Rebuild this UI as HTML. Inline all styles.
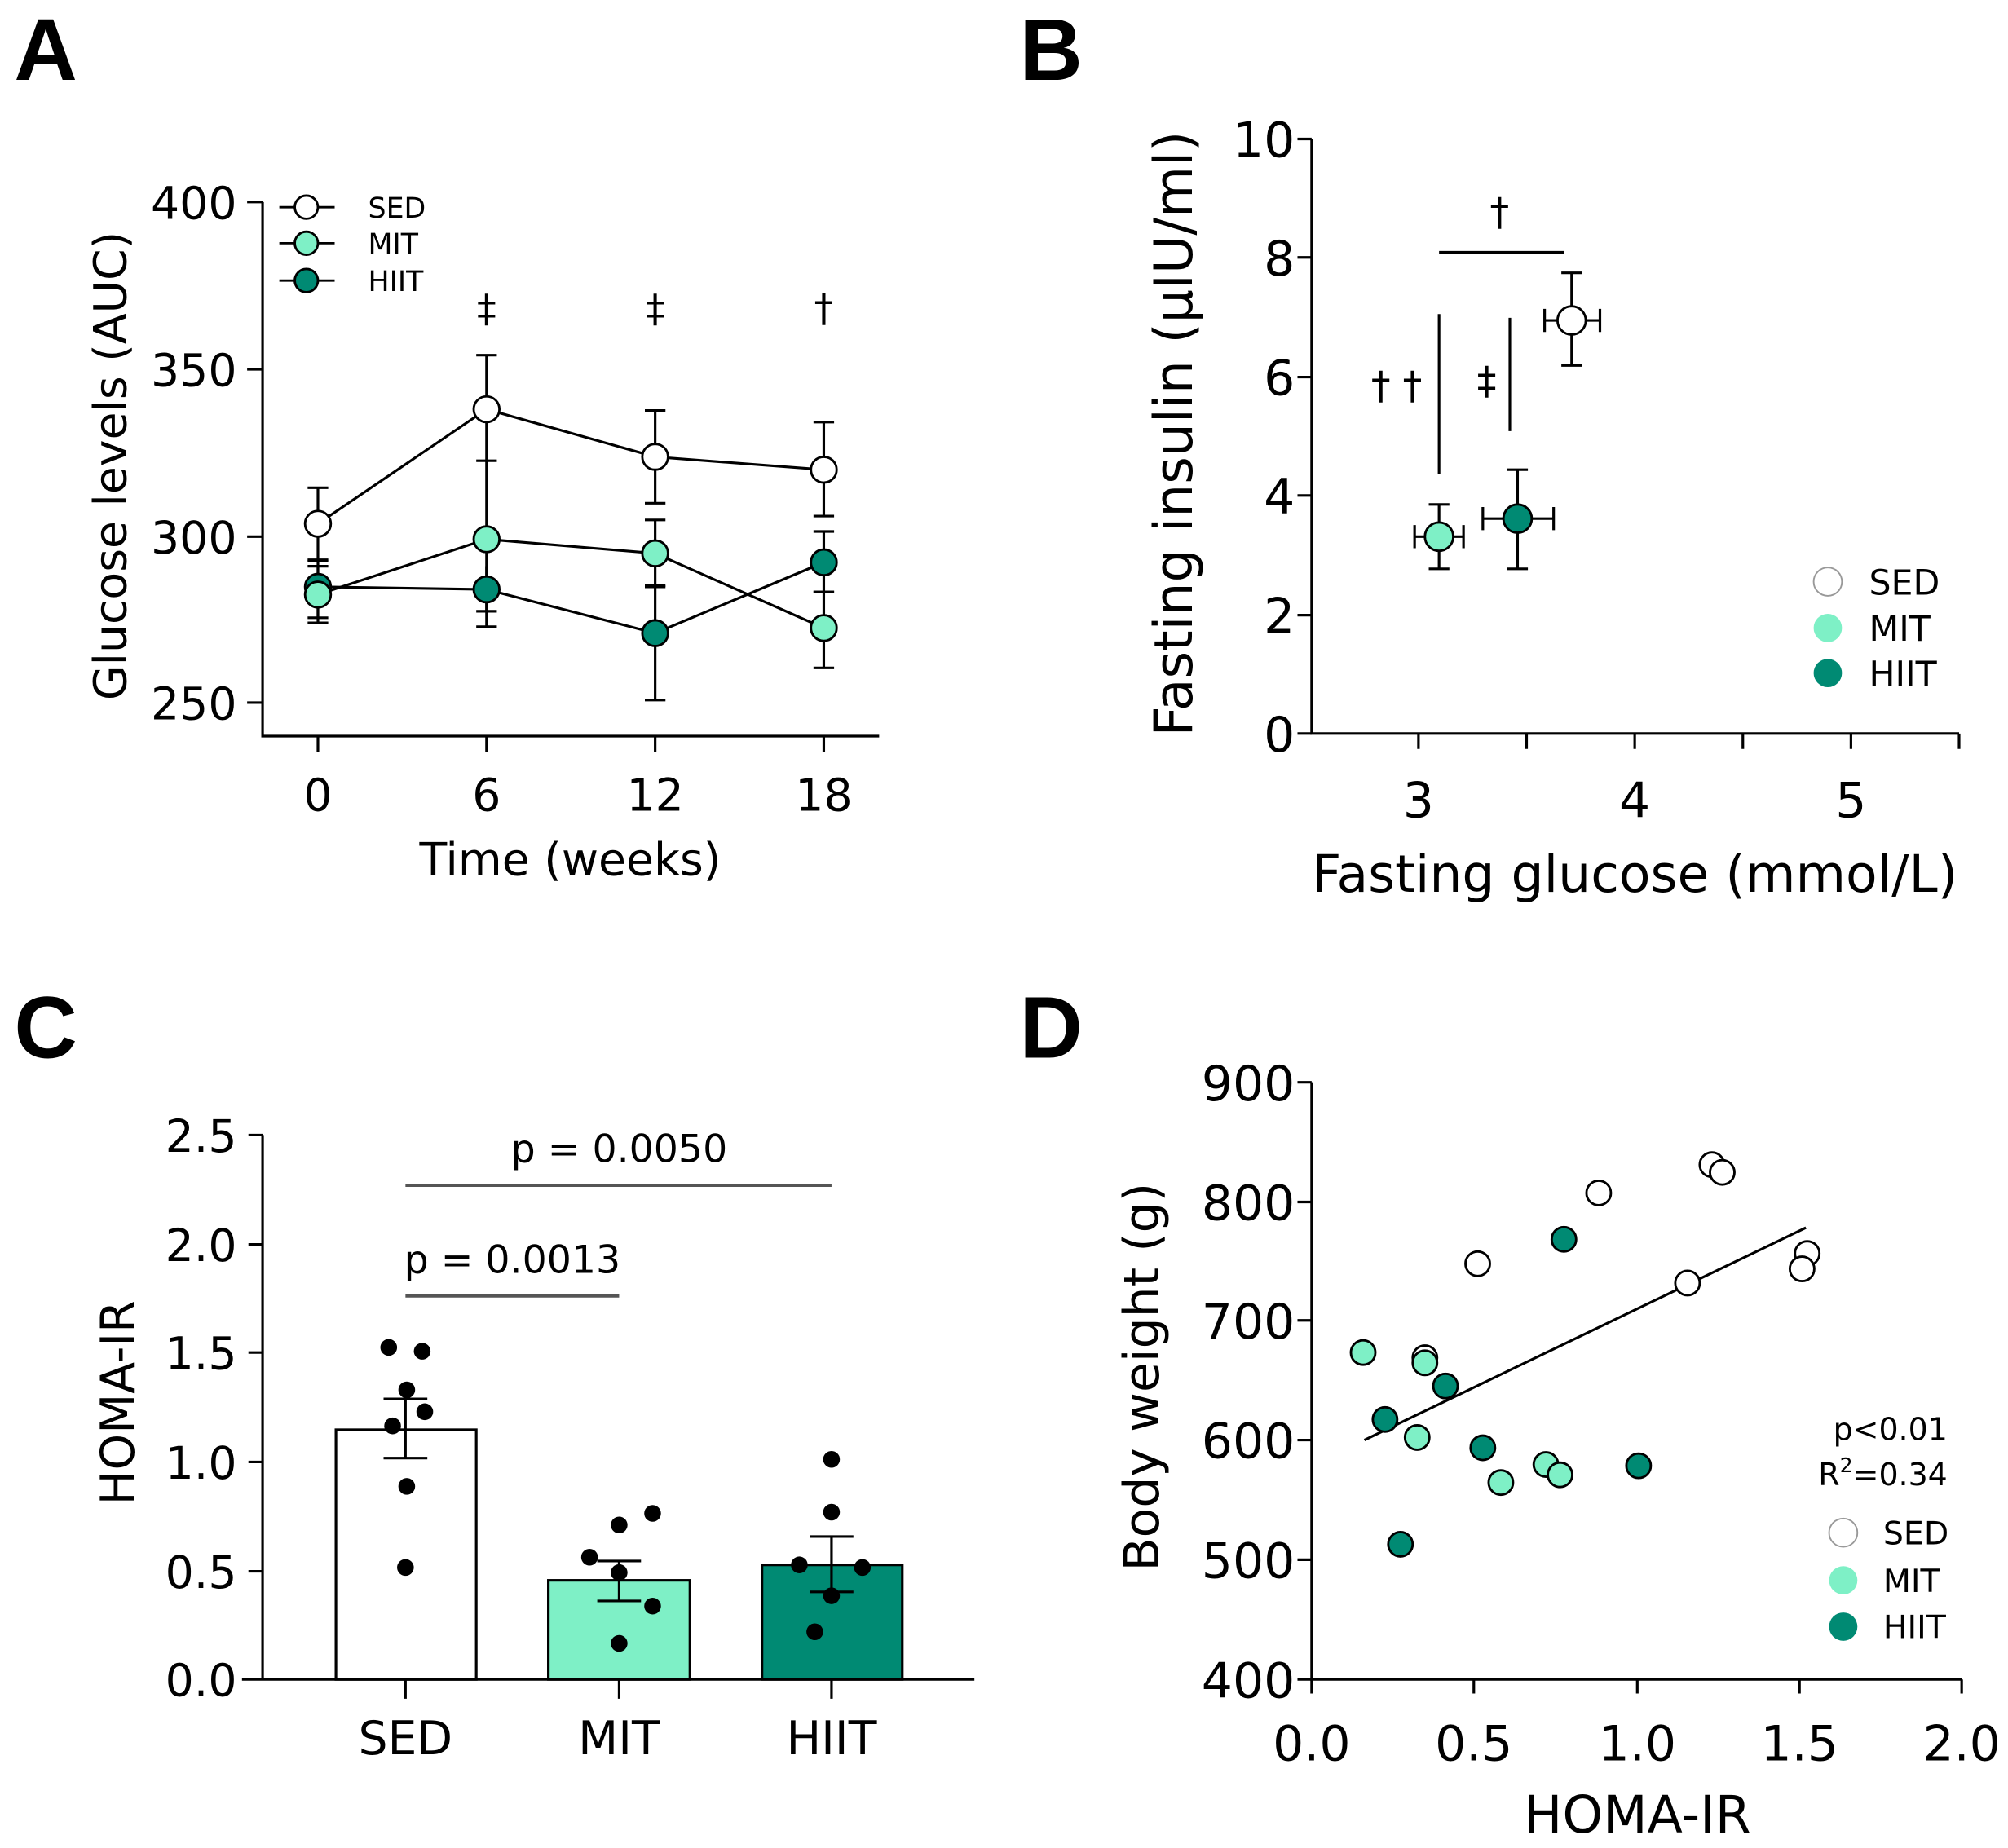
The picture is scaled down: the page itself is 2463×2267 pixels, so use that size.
<!DOCTYPE html>
<html><head><meta charset="utf-8"><style>html,body{margin:0;padding:0;background:#fff}svg{display:block}</style></head>
<body>
<svg width="2463" height="2267" viewBox="0 0 1560 1436" preserveAspectRatio="none" xmlns="http://www.w3.org/2000/svg" font-family="'DejaVu Sans','Liberation Sans',sans-serif" fill="#000">
<g font-family="'Liberation Sans',sans-serif" font-weight="bold" font-size="68">
<text x="11" y="62">A</text><text x="792" y="62">B</text><text x="11" y="822">C</text><text x="792" y="822">D</text>
</g>
<!-- Panel A -->
<g stroke="#000" stroke-width="2" fill="none">
<path d="M204 157V572H683"/>
<path d="M192 157H204M192 287H204M192 417H204M192 546H204"/>
<path d="M247 572V584M378 572V584M509 572V584M640 572V584"/>
</g>
<g font-size="35" text-anchor="end"><text x="184" y="170">400</text><text x="184" y="300">350</text><text x="184" y="430">300</text><text x="184" y="559">250</text></g>
<g font-size="35" text-anchor="middle"><text x="247" y="630">0</text><text x="378" y="630">6</text><text x="509" y="630">12</text><text x="640" y="630">18</text>
<text x="443" y="680" font-size="35">Time (weeks)</text></g>
<text font-size="35" text-anchor="middle" transform="translate(98 362) rotate(-90)">Glucose levels (AUC)</text>
<g stroke="#000" stroke-width="2" fill="none">
<path d="M247 379V435M239 379H255M239 435H255 M378 276V358M370 276H386M370 358H386 M509 319V391M501 319H517M501 391H517 M640 328V401M632 328H648M632 401H648"/>
<path d="M247 440V480M239 440H255M239 480H255 M378 358V475M370 475H386 M509 404V456M501 404H517M501 456H517 M640 460V519M632 460H648M632 519H648"/>
<path d="M247 436V484M239 436H255M239 484H255 M378 440V487M370 487H386 M509 455V544M501 455H517M501 544H517 M640 413V460M632 413H648M632 460H648"/>
<polyline points="247,407 378,318 509,355 640,365"/>
<polyline points="247,462 378,419 509,430 640,488"/>
<polyline points="247,456 378,458 509,492 640,437"/>
</g>
<g stroke="#000" stroke-width="1.8">
<circle cx="247" cy="456" r="10" fill="#008a73"/><circle cx="378" cy="458" r="10" fill="#008a73"/><circle cx="509" cy="492" r="10" fill="#008a73"/><circle cx="640" cy="437" r="10" fill="#008a73"/>
<circle cx="247" cy="462" r="10" fill="#7ef0c6"/><circle cx="378" cy="419" r="10" fill="#7ef0c6"/><circle cx="509" cy="430" r="10" fill="#7ef0c6"/><circle cx="640" cy="488" r="10" fill="#7ef0c6"/>
<circle cx="247" cy="407" r="10" fill="#fff"/><circle cx="378" cy="318" r="10" fill="#fff"/><circle cx="509" cy="355" r="10" fill="#fff"/><circle cx="640" cy="365" r="10" fill="#fff"/>
<path d="M217 161H260M217 189H260M217 218H260" fill="none"/>
<circle cx="238" cy="161" r="9" fill="#fff"/><circle cx="238" cy="189" r="9" fill="#7ef0c6"/><circle cx="238" cy="218" r="9" fill="#008a73"/>
</g>
<g font-size="22"><text x="286" y="169">SED</text><text x="286" y="197">MIT</text><text x="286" y="226">HIIT</text></g>
<g font-size="30" text-anchor="middle"><text x="378" y="250">‡</text><text x="509" y="250">‡</text><text x="640" y="250">†</text></g>
<!-- Panel B -->
<g stroke="#000" stroke-width="2" fill="none">
<path d="M1019 108V570H1522"/>
<path d="M1008 108H1019M1008 200H1019M1008 293H1019M1008 385H1019M1008 478H1019M1008 570H1019"/>
<path d="M1102 570V582M1186 570V582M1270 570V582M1354 570V582M1438 570V582M1522 570V582"/>
<path d="M1200 249H1243M1200 240V258M1243 240V258M1221 212V284M1213 212H1229M1213 284H1229"/>
<path d="M1099 417H1137M1099 408V426M1137 408V426M1118 392V442M1110 392H1126M1110 442H1126"/>
<path d="M1152 403H1207M1152 394V412M1207 394V412M1179 365V442M1171 365H1187M1171 442H1187"/>
<path d="M1118 196H1215M1118 244V368M1173 247V335"/>
</g>
<g stroke="#000" stroke-width="1.8"><circle cx="1221" cy="249" r="11" fill="#fff"/><circle cx="1118" cy="417" r="11" fill="#7ef0c6"/><circle cx="1179" cy="403" r="11" fill="#008a73"/></g>
<g font-size="38" text-anchor="end"><text x="1006" y="122">10</text><text x="1006" y="214">8</text><text x="1006" y="307">6</text><text x="1006" y="399">4</text><text x="1006" y="492">2</text><text x="1006" y="584">0</text></g>
<g font-size="38" text-anchor="middle"><text x="1102" y="635">3</text><text x="1270" y="635">4</text><text x="1438" y="635">5</text>
<text x="1270" y="693" font-size="40">Fasting glucose (mmol/L)</text></g>
<text font-size="41" text-anchor="middle" transform="translate(926 337) rotate(-90)">Fasting insulin (µIU/ml)</text>
<g font-size="30" text-anchor="middle"><text x="1165" y="175">†</text><text x="1085" y="310">† †</text><text x="1155" y="306">‡</text></g>
<circle cx="1420" cy="452" r="11" fill="#fff" stroke="#999" stroke-width="1.2"/><circle cx="1420" cy="488" r="11" fill="#7ef0c6"/><circle cx="1420" cy="523" r="11" fill="#008a73"/>
<g font-size="27"><text x="1452" y="462">SED</text><text x="1452" y="498">MIT</text><text x="1452" y="533">HIIT</text></g>
<!-- Panel C -->
<g stroke="#000" stroke-width="2">
<rect x="261" y="1111" width="109" height="194" fill="#fff"/>
<rect x="426" y="1228" width="110" height="77" fill="#7ef0c6"/>
<rect x="592" y="1216" width="109" height="89" fill="#008a73"/>
<path fill="none" d="M204 882V1305M188 1305H757M193 882H204M193 967H204M193 1051H204M193 1136H204M193 1221H204M315 1305V1320M481 1305V1320M646 1305V1320"/>
<path fill="none" d="M315 1087V1133M298 1087H332M298 1133H332M481 1213V1244M464 1213H498M464 1244H498M646 1194V1237M629 1194H663M629 1237H663"/>
</g>
<g stroke="#555" stroke-width="2.5"><path d="M315 921H646M315 1007H481"/></g>
<g font-size="30" text-anchor="middle"><text x="481" y="903">p = 0.0050</text><text x="398" y="989">p = 0.0013</text></g>
<g>
<circle cx="302" cy="1047" r="6.5"/><circle cx="328" cy="1050" r="6.5"/><circle cx="316" cy="1080" r="6.5"/><circle cx="330" cy="1097" r="6.5"/><circle cx="305" cy="1108" r="6.5"/><circle cx="316" cy="1155" r="6.5"/><circle cx="315" cy="1218" r="6.5"/>
<circle cx="481" cy="1185" r="6.5"/><circle cx="507" cy="1176" r="6.5"/><circle cx="458" cy="1210" r="6.5"/><circle cx="481" cy="1222" r="6.5"/><circle cx="507" cy="1248" r="6.5"/><circle cx="481" cy="1277" r="6.5"/>
<circle cx="646" cy="1134" r="6.5"/><circle cx="646" cy="1175" r="6.5"/><circle cx="621" cy="1216" r="6.5"/><circle cx="670" cy="1218" r="6.5"/><circle cx="646" cy="1240" r="6.5"/><circle cx="633" cy="1268" r="6.5"/>
</g>
<g font-size="35" text-anchor="end"><text x="184" y="895">2.5</text><text x="184" y="980">2.0</text><text x="184" y="1064">1.5</text><text x="184" y="1149">1.0</text><text x="184" y="1234">0.5</text><text x="184" y="1318">0.0</text></g>
<g font-size="36" text-anchor="middle"><text x="315" y="1363">SED</text><text x="481" y="1363">MIT</text><text x="646" y="1363">HIIT</text></g>
<text font-size="36" text-anchor="middle" transform="translate(104 1090) rotate(-90)">HOMA-IR</text>
<!-- Panel D -->
<g stroke="#000" stroke-width="2" fill="none">
<path d="M1019 841V1305H1524"/>
<path d="M1008 841H1019M1008 934H1019M1008 1026H1019M1008 1119H1019M1008 1212H1019M1008 1305H1019"/>
<path d="M1019 1305V1316M1145 1305V1316M1272 1305V1316M1398 1305V1316M1524 1305V1316"/>
<path d="M1060 1119L1403 954"/>
</g>
<g stroke="#000" stroke-width="1.8">
<circle cx="1242" cy="927" r="9.5" fill="#fff"/><circle cx="1330" cy="905" r="9.5" fill="#fff"/><circle cx="1338" cy="911" r="9.5" fill="#fff"/><circle cx="1148" cy="982" r="9.5" fill="#fff"/><circle cx="1311" cy="997" r="9.5" fill="#fff"/><circle cx="1404" cy="974" r="9.5" fill="#fff"/><circle cx="1400" cy="986" r="9.5" fill="#fff"/><circle cx="1107" cy="1055" r="9.5" fill="#fff"/>
<circle cx="1215" cy="963" r="9.5" fill="#008a73"/><circle cx="1123" cy="1077" r="9.5" fill="#008a73"/><circle cx="1076" cy="1103" r="9.5" fill="#008a73"/><circle cx="1152" cy="1125" r="9.5" fill="#008a73"/><circle cx="1273" cy="1139" r="9.5" fill="#008a73"/><circle cx="1088" cy="1200" r="9.5" fill="#008a73"/>
<circle cx="1059" cy="1051" r="9.5" fill="#7ef0c6"/><circle cx="1107" cy="1059" r="9.5" fill="#7ef0c6"/><circle cx="1101" cy="1117" r="9.5" fill="#7ef0c6"/><circle cx="1166" cy="1152" r="9.5" fill="#7ef0c6"/><circle cx="1201" cy="1138" r="9.5" fill="#7ef0c6"/><circle cx="1212" cy="1146" r="9.5" fill="#7ef0c6"/>
</g>
<g font-size="38" text-anchor="end"><text x="1006" y="855">900</text><text x="1006" y="948">800</text><text x="1006" y="1040">700</text><text x="1006" y="1133">600</text><text x="1006" y="1226">500</text><text x="1006" y="1319">400</text></g>
<g font-size="38" text-anchor="middle"><text x="1019" y="1368">0.0</text><text x="1145" y="1368">0.5</text><text x="1272" y="1368">1.0</text><text x="1398" y="1368">1.5</text><text x="1524" y="1368">2.0</text>
<text x="1272" y="1424" font-size="40">HOMA-IR</text></g>
<text font-size="38" text-anchor="middle" transform="translate(900 1070) rotate(-90)">Body weight (g)</text>
<g font-size="24" text-anchor="end"><text x="1513" y="1119">p&lt;0.01</text><text x="1513" y="1154">R<tspan dy="-10" font-size="16">2</tspan><tspan dy="10">=0.34</tspan></text></g>
<circle cx="1432" cy="1191" r="11" fill="#fff" stroke="#999" stroke-width="1.2"/><circle cx="1432" cy="1228" r="11" fill="#7ef0c6"/><circle cx="1432" cy="1264" r="11" fill="#008a73"/>
<g font-size="25"><text x="1463" y="1200">SED</text><text x="1463" y="1237">MIT</text><text x="1463" y="1273">HIIT</text></g>
</svg>
</body></html>
